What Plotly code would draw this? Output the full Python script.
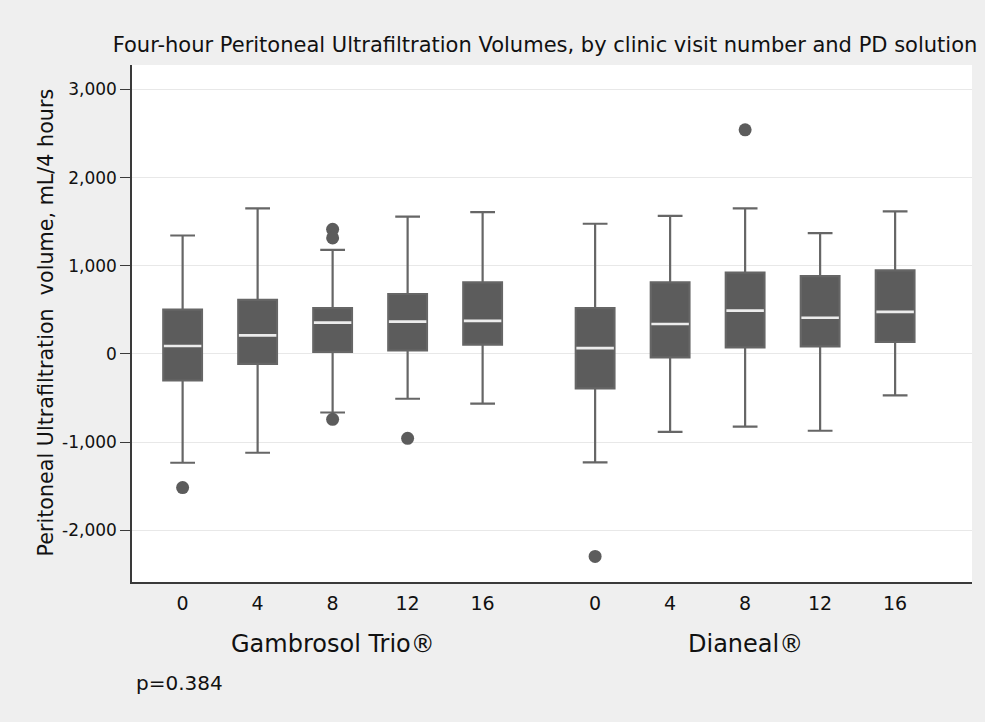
import plotly.graph_objects as go

visits = ["0", "4", "8", "12", "16"]
groups = ["Gambrosol Trio®", "Dianeal®"]

gam_lower = [-1234, -1121, -664, -508, -563]
gam_q1 = [-301, -113, 23, 39, 105]
gam_median = [90, 211, 355, 367, 375]
gam_q3 = [504, 613, 520, 680, 812]
gam_upper = [1344, 1652, 1180, 1559, 1609]
gam_outliers = [[-1516], [], [1414, 1316, -742], [-957], []]

dia_lower = [-1230, -883, -824, -871, -469]
dia_q1 = [-391, -39, 74, 86, 137]
dia_median = [66, 340, 492, 410, 477]
dia_q3 = [520, 812, 922, 883, 949]
dia_upper = [1477, 1566, 1652, 1371, 1617]
dia_outliers = [[-2297], [], [2543], [], []]

y_ticks = [-2000, -1000, 0, 1000, 2000, 3000]
y_tick_labels = ["-2,000", "-1,000", "0", "1,000", "2,000", "3,000"]

title = "Four-hour Peritoneal Ultrafiltration Volumes, by clinic visit number and PD solution"
y_title = "Peritoneal Ultrafiltration\u00a0 volume, mL/4 hours"
p_text = "p=0.384"

FONT = "DejaVu Sans"
BOX = "#5c5c5c"
WHISK = "#666666"
GROUP_GAP = 5.5

gam_pos = list(range(len(visits)))
dia_pos = [i + GROUP_GAP for i in range(len(visits))]

fig = go.Figure()

for pos, lo, q1, med, q3, up in [
    (gam_pos, gam_lower, gam_q1, gam_median, gam_q3, gam_upper),
    (dia_pos, dia_lower, dia_q1, dia_median, dia_q3, dia_upper),
]:
    fig.add_trace(go.Box(
        x=pos, lowerfence=lo, q1=q1, median=med, q3=q3, upperfence=up,
        width=0.516, whiskerwidth=0.64, fillcolor=BOX,
        line=dict(color=WHISK, width=2.2), boxpoints=False,
        showlegend=False, hoverinfo="skip",
    ))
    # white median stroke drawn as a flat box at the median
    fig.add_trace(go.Box(
        x=pos, lowerfence=med, q1=med, median=med, q3=med, upperfence=med,
        width=0.5, whiskerwidth=0, fillcolor="rgba(0,0,0,0)",
        line=dict(color="#ececec", width=2.6), boxpoints=False,
        showlegend=False, hoverinfo="skip",
    ))

for pos, outs in [(gam_pos, gam_outliers), (dia_pos, dia_outliers)]:
    xs, ys = [], []
    for p, o in zip(pos, outs):
        for v in o:
            xs.append(p)
            ys.append(v)
    fig.add_trace(go.Scatter(
        x=xs, y=ys, mode="markers",
        marker=dict(color=BOX, size=13, line=dict(width=0)),
        showlegend=False, hoverinfo="skip",
    ))

W, H = 985, 722
L, R, T, B = 132, 13, 65, 140
pw, ph = W - L - R, H - T - B

def px_x(px):
    return (px - L) / pw

def px_y(py):
    return (H - B - py) / ph

fig.update_layout(
    width=W, height=H,
    margin=dict(l=L, r=R, t=T, b=B, pad=0),
    paper_bgcolor="#efefef",
    plot_bgcolor="#ffffff",
    boxmode="overlay",
    font=dict(family=FONT, color="#111111"),
    title=dict(
        text=title, font=dict(family=FONT, size=21, color="#111111"),
        x=545 / W, xref="container", xanchor="center",
        y=1 - 45 / H, yref="container", yanchor="middle",
    ),
    xaxis=dict(
        range=[-0.675, 10.525],
        tickvals=gam_pos + dia_pos,
        ticktext=visits + visits,
        ticks="outside", ticklen=3, tickcolor="rgba(0,0,0,0)",
        tickfont=dict(family=FONT, size=19, color="#111111"),
        showgrid=False, zeroline=False,
        showline=True, linecolor="#3a3a3a", linewidth=1.5,
        fixedrange=True,
    ),
    yaxis=dict(
        range=[-2587, 3278],
        tickvals=y_ticks, ticktext=y_tick_labels,
        ticks="outside", ticklen=10, tickwidth=1.3, tickcolor="#3a3a3a",
        tickfont=dict(family=FONT, size=17, color="#111111"),
        showgrid=True, gridcolor="#e8e8e8", gridwidth=1.2,
        zeroline=False,
        showline=True, linecolor="#3a3a3a", linewidth=1.5,
        fixedrange=True,
    ),
    annotations=[
        dict(text=y_title, textangle=-90, xref="paper", yref="paper",
             x=px_x(45), y=px_y(322.5), xanchor="center", yanchor="middle",
             showarrow=False, font=dict(family=FONT, size=20.7, color="#111111")),
        dict(text=groups[0], xref="x", yref="paper",
             x=sum(gam_pos) / len(gam_pos), y=px_y(644),
             xanchor="center", yanchor="middle", showarrow=False,
             font=dict(family=FONT, size=24, color="#111111")),
        dict(text=groups[1], xref="x", yref="paper",
             x=sum(dia_pos) / len(dia_pos), y=px_y(644),
             xanchor="center", yanchor="middle", showarrow=False,
             font=dict(family=FONT, size=24, color="#111111")),
        dict(text=p_text, xref="paper", yref="paper",
             x=px_x(134), y=px_y(682.5), xanchor="left", yanchor="middle",
             showarrow=False, font=dict(family=FONT, size=20, color="#111111")),
    ],
)

fig.write_html(
    "out.html",
    config={"displayModeBar": False},
    post_script="document.body.style.margin='0';document.body.style.overflow='hidden';",
)
